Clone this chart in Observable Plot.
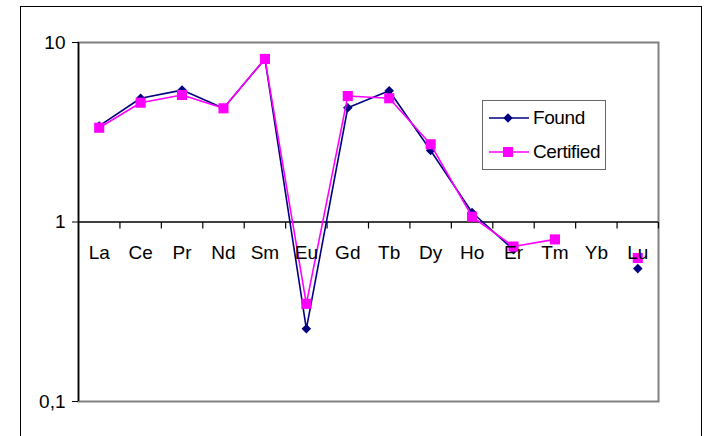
<!DOCTYPE html>
<html>
<head>
<meta charset="utf-8">
<script src="https://cdn.jsdelivr.net/npm/d3@7"></script>
<script src="https://cdn.jsdelivr.net/npm/@observablehq/plot@0.6"></script>
<style>
  html, body { margin: 0; padding: 0; background: #fff; overflow: hidden; }
  #wrap { position: relative; width: 706px; height: 436px; font-family: "Liberation Sans", Arial, sans-serif; }
  #outer { position: absolute; left: 20px; top: 6px; width: 682px; height: 460px; border: 1.5px solid #000; box-sizing: border-box; pointer-events: none; }
  #legend { position: absolute; left: 482px; top: 100px; width: 124px; height: 70px; border: 1.5px solid #666; box-sizing: border-box; background: #fff; }
  #legend .row { position: absolute; left: 6px; height: 22px; display: flex; align-items: center; }
  #legend .row span { font-size: 19px; letter-spacing: -0.4px; margin-left: 4px; color: #000; }
</style>
</head>
<body>
<div id="wrap">
  <div id="chart"></div>
  <div id="outer"></div>
  <div id="legend"></div>
</div>
<script>
const elements = ["La","Ce","Pr","Nd","Sm","Eu","Gd","Tb","Dy","Ho","Er","Tm","Yb","Lu"];
const found     = [3.43, 4.89, 5.43, 4.3, 8.1, 0.254, 4.33, 5.38, 2.50, 1.13, 0.70, null, null, 0.55];
const certified = [3.35, 4.62, 5.10, 4.3, 8.1, 0.35, 5.03, 4.89, 2.71, 1.07, 0.73, 0.80, null, 0.63];
const yTicks = [0.1, 1, 10];
const yTickLabels = ["0,1", "1", "10"];
const seriesNames = ["Found", "Certified"];
const seriesColors = ["#000080", "#FF00FF"];

const rows = elements.map((el, i) => ({el, i: i + 0.5, found: found[i], certified: certified[i]}));
const boundaries = d3.range(1, elements.length + 1).map(b => ({b, v: 1}));

// a short downward tick, drawn as a custom symbol at the category boundaries on the y = 1 axis
const downTick = {draw(context) { context.moveTo(0, 0); context.lineTo(0, 6.5); }};

const chart = Plot.plot({
  width: 706,
  height: 436,
  marginLeft: 78,
  marginRight: 48,
  marginTop: 42,
  marginBottom: 35,
  style: {fontFamily: "'Liberation Sans', Arial, sans-serif", background: "transparent"},
  x: {domain: [0, elements.length], axis: null},
  y: {type: "log", domain: [0.1, 10], axis: null},
  marks: [
    Plot.frame({stroke: "#808080", strokeWidth: 2}),
    Plot.ruleY([1], {stroke: "#000", strokeWidth: 1.5}),
    Plot.ruleX([0], {stroke: "#000", strokeWidth: 1.5}),
    Plot.dot(boundaries, {x: "b", y: "v", symbol: downTick, r: 3, stroke: "#000", strokeWidth: 1.2, fill: "none"}),
    Plot.axisY({
      ticks: yTicks,
      tickFormat: d => yTickLabels[yTicks.indexOf(d)],
      tickSize: 6,
      tickPadding: 7,
      fontSize: 19,
      stroke: "#000"
    }),
    Plot.line(rows, {x: "i", y: "found", stroke: seriesColors[0], strokeWidth: 1.6}),
    Plot.dot(rows.filter(d => d.found != null), {x: "i", y: "found", symbol: "diamond2", r: 4.3, fill: seriesColors[0], stroke: "none"}),
    Plot.line(rows, {x: "i", y: "certified", stroke: seriesColors[1], strokeWidth: 1.6}),
    Plot.dot(rows.filter(d => d.certified != null), {x: "i", y: "certified", symbol: "square", r: 5.7, fill: seriesColors[1], stroke: "none"}),
    Plot.text(rows, {x: "i", y: () => 1, text: "el", dy: 31, fontSize: 19, fill: "#000", textAnchor: "middle", lineAnchor: "middle"})
  ]
});
document.getElementById("chart").appendChild(chart);

// Legend (inside the plot area, as in the reference)
const legend = document.getElementById("legend");
const symbols = [
  `<svg width="40" height="22"><line x1="0" y1="11" x2="40" y2="11" stroke="${seriesColors[0]}" stroke-width="1.6"/><path d="M19,6.3L23.7,11L19,15.7L14.3,11Z" fill="${seriesColors[0]}"/></svg>`,
  `<svg width="40" height="22"><line x1="0" y1="11" x2="40" y2="11" stroke="${seriesColors[1]}" stroke-width="1.6"/><rect x="14" y="6" width="10" height="10" fill="${seriesColors[1]}"/></svg>`
];
seriesNames.forEach((name, k) => {
  const row = document.createElement("div");
  row.className = "row";
  row.style.top = (k === 0 ? 6 : 40) + "px";
  row.innerHTML = symbols[k] + `<span>${name}</span>`;
  legend.appendChild(row);
});
</script>
</body>
</html>
